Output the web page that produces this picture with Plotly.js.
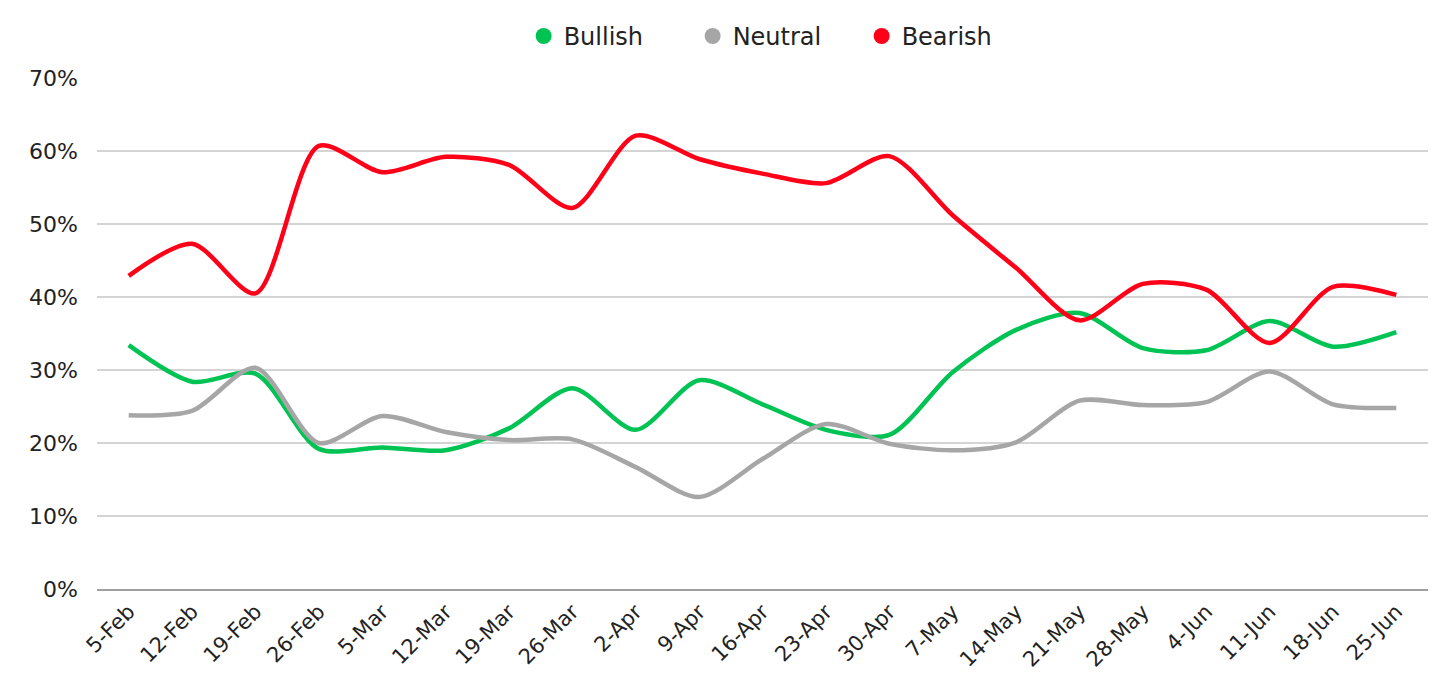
<!DOCTYPE html>
<html>
<head>
<meta charset="utf-8">
<script src="https://cdn.plot.ly/plotly-3.0.1.min.js"></script>
<style>html,body{margin:0;padding:0;background:#fff;}#chart{width:1445px;height:695px;}</style>
</head>
<body>
<div id="chart"></div>
<script>
const weeks = ["5-Feb","12-Feb","19-Feb","26-Feb","5-Mar","12-Mar","19-Mar","26-Mar","2-Apr","9-Apr","16-Apr","23-Apr","30-Apr","7-May","14-May","21-May","28-May","4-Jun","11-Jun","18-Jun","25-Jun"];
const bullish = [33.4,28.4,29.5,19.2,19.4,19.0,22.0,27.5,21.8,28.6,25.3,21.8,21.1,29.7,35.5,37.8,33.0,32.7,36.7,33.2,35.2];
const neutral = [23.8,24.4,30.3,20.0,23.7,21.5,20.4,20.5,16.7,12.6,17.8,22.6,19.9,19.0,20.1,25.8,25.2,25.6,29.8,25.3,24.8];
const bearish = [42.9,47.3,40.5,60.7,57.1,59.2,58.1,52.2,62.1,58.9,56.9,55.6,59.3,51.2,44.0,36.8,41.8,41.0,33.7,41.4,40.3];
const yTicks = [0,10,20,30,40,50,60,70];

const names = ["Bullish","Neutral","Bearish"];
const colors = ["#00c354","#a6a6a6","#ff0019"];
const series = [bullish, neutral, bearish];

const traces = [];
series.forEach((s,i)=>{
  traces.push({x: weeks, y: s, type:'scatter', mode:'lines', name: names[i],
    line:{color: colors[i], width:4.5, shape:'spline', smoothing:0.8}, showlegend:false, hoverinfo:'x+y'});
});
names.forEach((n,i)=>{
  traces.push({x:[null], y:[null], type:'scatter', mode:'markers', name:n,
    marker:{color:colors[i], size:24, symbol:'circle'}, showlegend:true});
});

const layout = {
  width:1445, height:695,
  margin:{l:97, r:17, t:78, b:106},
  paper_bgcolor:'#fff', plot_bgcolor:'#fff',
  font:{family:'"DejaVu Sans", sans-serif', color:'#222', size:20},
  showlegend:true,
  legend:{orientation:'h', x:0.511, xanchor:'center', y:0.98, yanchor:'top', yref:'container',
    font:{size:24, color:'#222'}, itemwidth:30, tracegroupgap:0,
    entrywidth:124, entrywidthmode:'pixels'},
  xaxis:{type:'category', tickangle:-45, showgrid:false, zeroline:false,
    showline:true, linecolor:'#a0a0a0', linewidth:2, ticks:'', tickfont:{size:21, color:'#222'},
    range:[-0.5, weeks.length-0.5]},
  yaxis:{range:[0,70], tickvals:yTicks, ticktext:yTicks.map(v=>v+'%'), showgrid:true,
    gridcolor:'#d4d4d4', gridwidth:1.5, zeroline:false, showline:false, ticks:'',
    tickfont:{size:22, color:'#222'}, ticklabelstandoff:18, fixedrange:true}
};

Plotly.newPlot('chart', traces, layout, {displayModeBar:false, staticPlot:true});
</script>
</body>
</html>
